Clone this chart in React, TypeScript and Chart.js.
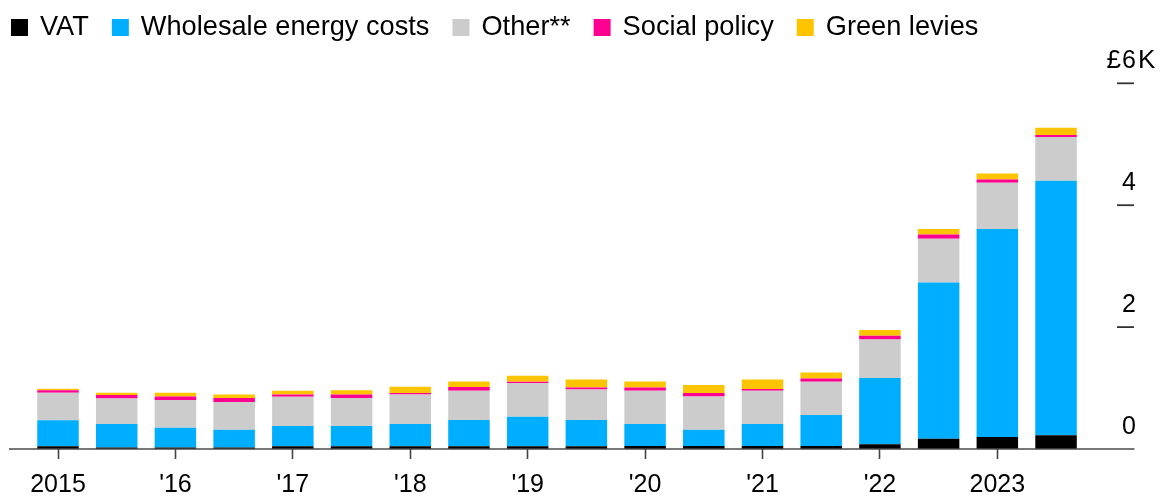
import React, { useEffect, useRef } from 'react';
import { Chart, registerables } from 'chart.js';

Chart.register(...registerables);

const categories = [
  '2015 H1', '2015 H2', '2016 H1', '2016 H2', '2017 H1', '2017 H2',
  '2018 H1', '2018 H2', '2019 H1', '2019 H2', '2020 H1', '2020 H2',
  '2021 H1', '2021 H2', '2022 H1', '2022 H2', '2023 H1', '2023 H2',
];
const tickLabels = [
  '2015', '', "'16", '', "'17", '', "'18", '', "'19", '',
  "'20", '', "'21", '', "'22", '', '2023', '',
];

// £ thousands
const vat = [0.044, 0.025, 0.025, 0.025, 0.044, 0.044, 0.044, 0.044, 0.044, 0.044, 0.049, 0.049, 0.049, 0.049, 0.077, 0.169, 0.197, 0.224];
const wholesale = [0.426, 0.385, 0.325, 0.292, 0.333, 0.333, 0.366, 0.431, 0.486, 0.431, 0.361, 0.268, 0.361, 0.508, 1.087, 2.561, 3.413, 4.176];
const other = [0.453, 0.42, 0.453, 0.453, 0.481, 0.459, 0.486, 0.481, 0.552, 0.503, 0.546, 0.546, 0.546, 0.547, 0.634, 0.72, 0.76, 0.72];
const socialPolicy = [0.039, 0.055, 0.06, 0.066, 0.038, 0.06, 0.022, 0.06, 0.022, 0.033, 0.055, 0.055, 0.028, 0.054, 0.06, 0.07, 0.05, 0.03];
const greenLevies = [0.027, 0.038, 0.06, 0.06, 0.06, 0.066, 0.104, 0.093, 0.098, 0.131, 0.098, 0.131, 0.158, 0.099, 0.093, 0.09, 0.1, 0.12];

const seriesLabels = ['VAT', 'Wholesale energy costs', 'Other**', 'Social policy', 'Green levies'];
const seriesColors = ['#000000', '#00aeff', '#cccccc', '#ff0090', '#ffc400'];

const yTickValues = [0, 2, 4, 6];

const FONT = '"Liberation Sans", Arial, Helvetica, sans-serif';

export default function App() {
  const ref = useRef<HTMLCanvasElement | null>(null);

  useEffect(() => {
    const canvas = ref.current;
    if (!canvas) return;

    const overlay = {
      id: 'overlay',
      afterDatasetsDraw(chart: any) {
        const { ctx } = chart;
        const y = chart.scales.y;
        const y0 = y.getPixelForValue(0);
        ctx.save();
        ctx.strokeStyle = '#4a4a4a';
        ctx.lineWidth = 1.6;
        ctx.beginPath();
        ctx.moveTo(9, y0);
        ctx.lineTo(1134.5, y0);
        ctx.stroke();
        ctx.restore();
      },
      afterDraw(chart: any) {
        const { ctx } = chart;
        const y = chart.scales.y;
        ctx.save();
        // right axis dashes and labels
        ctx.font = `25px ${FONT}`;
        ctx.fillStyle = '#000';
        ctx.textBaseline = 'alphabetic';
        const cx = 1129;
        yTickValues.forEach((v, i) => {
          const py = y.getPixelForValue(v);
          if (v !== 0) {
            ctx.strokeStyle = '#333';
            ctx.lineWidth = 1.8;
            ctx.beginPath();
            ctx.moveTo(1117, py);
            ctx.lineTo(1134, py);
            ctx.stroke();
          }
          const txt = String(v);
          const w = ctx.measureText(txt).width;
          ctx.textAlign = 'center';
          ctx.fillText(txt, cx, py - 15.5);
          if (i === yTickValues.length - 1) {
            ctx.font = `26px ${FONT}`;
            ctx.textAlign = 'right';
            ctx.fillText('£', cx - w / 2 - 1, py - 15.5);
            ctx.textAlign = 'left';
            ctx.fillText('K', cx + w / 2 + 2, py - 15.5);
          }
        });

        // legend
        ctx.font = `27.2px ${FONT}`;
        ctx.textAlign = 'left';
        ctx.textBaseline = 'middle';
        let x = 11;
        const ly = 27.5;
        const box = 17;
        chart.data.datasets.forEach((ds: any) => {
          ctx.fillStyle = ds.backgroundColor;
          ctx.fillRect(x, ly - box / 2, box, box);
          ctx.fillStyle = '#000';
          const tx = x + box + 12;
          ctx.fillText(ds.label, tx, ly);
          x = tx + ctx.measureText(ds.label).width + 23;
        });
        ctx.restore();
      },
    };

    const series = [vat, wholesale, other, socialPolicy, greenLevies];

    const chart = new Chart(canvas, {
      type: 'bar',
      data: {
        labels: categories,
        datasets: series.map((data, i) => ({
          label: seriesLabels[i],
          data,
          backgroundColor: seriesColors[i],
          borderWidth: 0,
          barPercentage: 0.707,
          categoryPercentage: 1,
        })),
      },
      options: {
        responsive: true,
        maintainAspectRatio: false,
        animation: false,
        layout: { padding: { top: 83.3, left: 28.65, right: 78.6, bottom: -14 } },
        plugins: {
          legend: { display: false },
          tooltip: { enabled: false },
        },
        scales: {
          x: {
            type: 'category',
            stacked: true,
            offset: true,
            border: { display: false },
            grid: {
              display: true,
              offset: false,
              drawOnChartArea: false,
              drawTicks: true,
              tickLength: 10,
              tickWidth: 1.6,
              tickColor: (c: any) => (c.index % 2 === 0 ? '#444' : 'rgba(0,0,0,0)'),
            },
            ticks: {
              autoSkip: false,
              maxRotation: 0,
              minRotation: 0,
              padding: 14,
              color: '#000',
              font: { family: FONT, size: 25, lineHeight: 1 },
              callback: (_v: any, i: number) => tickLabels[i],
            },
          },
          y: {
            display: false,
            stacked: true,
            min: 0,
            max: 6,
          },
        },
      },
      plugins: [overlay],
    });

    return () => chart.destroy();
  }, []);

  return (
    <div style={{ position: 'fixed', left: 0, top: 0, width: 1164, height: 498, background: '#fff' }}>
      <canvas ref={ref} />
    </div>
  );
}
